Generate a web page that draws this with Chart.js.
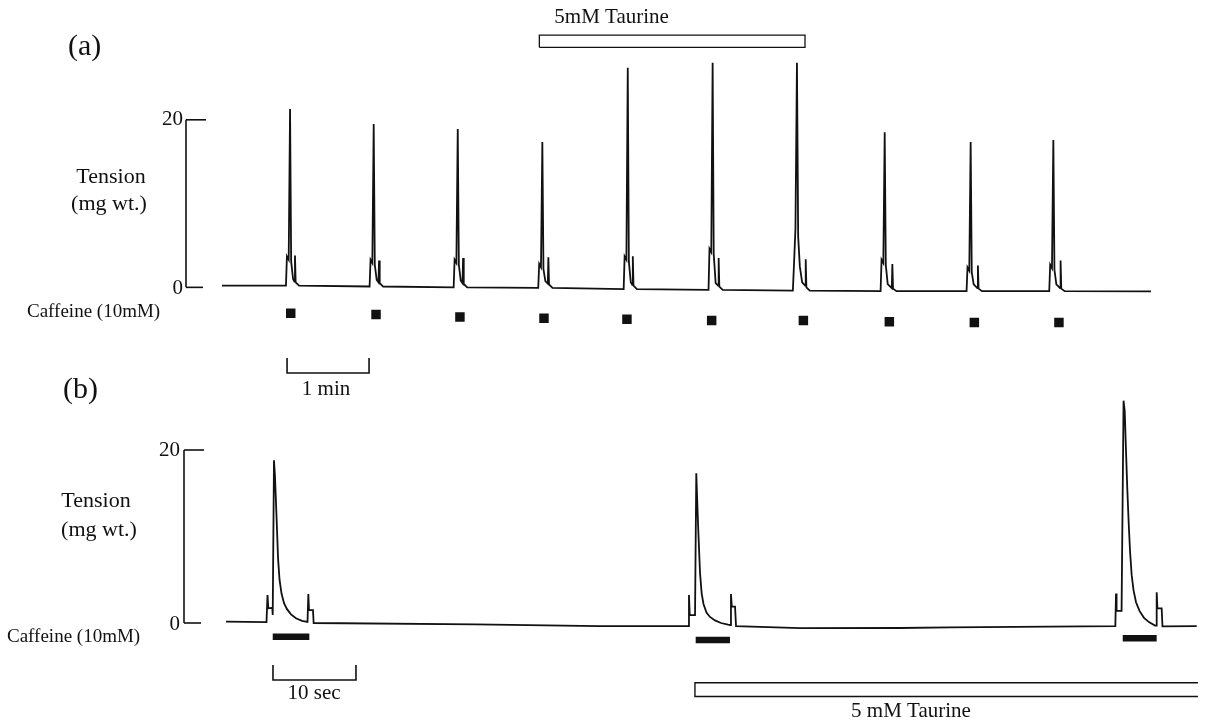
<!DOCTYPE html>
<html>
<head>
<meta charset="utf-8">
<title>Caffeine contractures and 5 mM taurine</title>
<script src="https://cdn.jsdelivr.net/npm/chart.js@4.4.1/dist/chart.umd.min.js"></script>
<style>
  body { margin: 0; background: #fff; }
  .wrap { position: relative; width: 1209px; height: 724px; }
  canvas { position: absolute; left: 0; top: 0; }
</style>
</head>
<body>
<div class="wrap">
  <canvas id="traceA" width="1209" height="724"></canvas>
  <canvas id="traceB" width="1209" height="724"></canvas>
</div>
<script>
// (a) slow record: time in s from start of trace, tension in mg wt.
const aTime = [
  0,
  46.8, 47.5, 48.8, 49.8, 50.6, 52.0, 53.0, 53.4, 53.9, 56.4,
  108.0, 108.7, 110.0, 111.0, 111.8, 113.2, 114.5, 114.9, 115.4, 117.9,
  169.5, 170.2, 171.5, 172.5, 173.3, 174.7, 176.0, 176.4, 176.9, 179.4,
  231.4, 232.1, 233.4, 234.4, 235.2, 236.6, 238.4, 238.8, 239.3, 241.8,
  293.9, 294.6, 295.9, 296.9, 297.7, 299.1, 300.2, 300.6, 301.1, 303.6,
  356.0, 356.7, 358.0, 359.0, 359.8, 361.2, 363.0, 363.4, 363.9, 366.4,
  417.7, 418.6, 419.6, 420.7, 421.6, 422.8, 424.5, 426.7, 427.1, 427.6, 430.1,
  481.9, 482.6, 483.9, 484.9, 485.7, 487.1, 490.1, 490.5, 491.0, 493.5,
  544.8, 545.5, 546.8, 547.8, 548.6, 550.0, 552.7, 553.1, 553.6, 556.1,
  605.3, 606.0, 607.3, 608.3, 609.1, 610.5, 613.2, 613.6, 614.1, 616.6,
  679.8
];
const aTension = [
  0.2,
  0.2, 3.7, 3.3, 21.3, 3.1, 1.0, 0.7, 3.8, 0.6, 0.2,
  0.1, 3.3, 2.9, 19.5, 2.7, 0.9, 0.6, 3.2, 0.5, 0.1,
  0.0, 3.3, 2.9, 18.9, 2.7, 0.8, 0.5, 3.5, 0.4, 0.0,
  -0.05, 2.8, 2.4, 17.35, 2.2, 0.75, 0.45, 3.6, 0.35, -0.05,
  -0.2, 3.7, 3.3, 26.2, 3.1, 0.6, 0.3, 3.7, 0.2, -0.2,
  -0.3, 4.6, 4.2, 26.8, 4.0, 0.5, 0.2, 3.5, 0.1, -0.3,
  -0.4, 3.0, 7.0, 26.8, 6.0, 2.5, 0.6, 0.2, 3.35, 0.0, -0.4,
  -0.45, 3.3, 2.9, 18.5, 2.7, 0.4, -0.1, 2.8, -0.15, -0.45,
  -0.45, 2.4, 2.0, 17.35, 1.8, 0.35, -0.1, 2.6, -0.15, -0.45,
  -0.45, 2.7, 2.3, 17.6, 2.1, 0.35, -0.1, 3.2, -0.15, -0.45,
  -0.47
];
const aCaffeineTime = [50.3, 112.7, 174.1, 235.6, 296.3, 358.3, 425.4, 488.3, 550.5, 612.4];
const aCaffeineLevel = [-3.1, -3.25, -3.55, -3.7, -3.8, -3.95, -3.95, -4.1, -4.2, -4.2];
const aTaurine = [232.2, 426.6];

// (b) fast record: time in s from start of trace
const bTime = [
  0, 4.88, 5.0, 5.1, 5.58, 5.63, 5.78, 5.90, 6.08, 6.27, 6.45, 6.69, 6.99, 7.35, 7.83, 8.43, 9.16, 9.82,
  9.92, 10.0, 10.48, 10.56,
  30.0, 45.0,
  55.72, 55.78, 55.87, 56.51, 56.66, 56.87, 57.11, 57.31, 57.53, 57.89, 58.31, 58.92, 59.64, 60.48,
  60.78, 60.84, 60.94, 61.33, 61.45,
  69.2, 81.2, 87.2,
  107.15, 107.23, 107.3, 107.9, 108.14, 108.28, 108.43, 108.59, 108.76, 108.92, 109.12, 109.34, 109.64,
  110.06, 110.6, 111.2, 111.93,
  112.05, 112.13, 112.22, 112.73, 112.83, 116.95
];
const bTension = [
  0.15, 0.1, 3.24, 1.7, 1.75, 0.92, 18.8, 17.0, 12.5, 7.5, 5.0, 3.4, 2.3, 1.6, 1.0, 0.55, 0.25, 0.12,
  3.35, 1.5, 1.5, 0.0,
  -0.15, -0.35,
  -0.35, 3.24, 0.92, 0.92, 17.3, 11.5, 5.8, 3.4, 2.2, 1.2, 0.7, 0.3, 0.0, -0.2,
  -0.25, 3.35, 1.9, 1.9, -0.35,
  -0.6, -0.58, -0.5,
  -0.35, 3.4, 1.4, 1.4, 25.7, 24.5, 20.0, 15.5, 11.5, 8.3, 5.5, 3.8, 2.4,
  1.4, 0.6, 0.1, -0.3,
  -0.3, 3.55, 1.7, 1.7, -0.4, -0.35
];
const bCaffeine = [[5.63, 10.04], [56.59, 60.72], [108.04, 112.13]];
const bCaffeineLevel = [-1.58, -1.97, -1.77];
const bTaurine = [56.5, 117.1];

const tensionTicks = [0, 20];
const serif = '"Liberation Serif", "Times New Roman", serif';
const ink = '#111';

const pts = (xs, ys) => xs.map((x, i) => ({ x: x, y: ys[i] }));

// outline of a drug application bar; open bars run off the right side
function bar(span, lo, hi, open) {
  if (open) {
    return [{ x: span[1], y: hi }, { x: span[0], y: hi }, { x: span[0], y: lo }, { x: span[1], y: lo }];
  }
  return [{ x: span[0], y: lo }, { x: span[1], y: lo }, { x: span[1], y: hi }, { x: span[0], y: hi }, { x: span[0], y: lo }];
}

function text(ctx, s, x, y, size, align) {
  ctx.font = size + 'px ' + serif;
  ctx.textAlign = align || 'center';
  ctx.textBaseline = 'middle';
  ctx.fillText(s, x, y);
}

function line(ctx, x1, y1, x2, y2) {
  ctx.beginPath();
  ctx.moveTo(x1, y1);
  ctx.lineTo(x2, y2);
  ctx.stroke();
}

// tension scale bar drawn from the y scale
function tensionBar(chart, barX, labelX) {
  const ctx = chart.ctx, y = chart.scales.y;
  const lo = y.getPixelForValue(tensionTicks[0]);
  const hi = y.getPixelForValue(tensionTicks[1]);
  line(ctx, barX, hi, barX, lo);
  line(ctx, barX, hi, barX + 20, hi);
  line(ctx, barX, lo, barX + 17, lo);
  text(ctx, String(tensionTicks[1]), labelX, hi, 21, 'right');
  text(ctx, String(tensionTicks[0]), labelX, lo + 1, 21, 'right');
}

function timeBar(chart, t0, len, yPix, label, labelX, labelY) {
  const ctx = chart.ctx, x = chart.scales.x;
  const x1 = x.getPixelForValue(t0), x2 = x.getPixelForValue(t0 + len);
  ctx.beginPath();
  ctx.moveTo(x1, yPix - 15);
  ctx.lineTo(x1, yPix);
  ctx.lineTo(x2, yPix);
  ctx.lineTo(x2, yPix - 15);
  ctx.stroke();
  text(ctx, label, labelX, labelY, 21);
}

const overlayA = {
  id: 'overlayA',
  afterDraw(chart) {
    const ctx = chart.ctx;
    ctx.save();
    ctx.strokeStyle = ink;
    ctx.fillStyle = ink;
    ctx.lineWidth = 1.6;
    tensionBar(chart, 186, 183);
    text(ctx, '(a)', 68, 47, 30, 'left');
    text(ctx, 'Tension', 111, 177, 22);
    text(ctx, '(mg wt.)', 109, 204, 22);
    text(ctx, 'Caffeine (10mM)', 27, 312, 19, 'left');
    text(ctx, '5mM Taurine', chart.scales.x.getPixelForValue(aTaurine[0]) + 15, 17, 21, 'left');
    timeBar(chart, 47.6, 60, 373, '1 min', 326, 389);
    ctx.restore();
  }
};

const overlayB = {
  id: 'overlayB',
  afterDraw(chart) {
    const ctx = chart.ctx;
    ctx.save();
    ctx.strokeStyle = ink;
    ctx.fillStyle = ink;
    ctx.lineWidth = 1.6;
    tensionBar(chart, 184, 180);
    text(ctx, '(b)', 63, 390, 30, 'left');
    text(ctx, 'Tension', 96, 501, 22);
    text(ctx, '(mg wt.)', 99, 530, 22);
    text(ctx, 'Caffeine (10mM)', 7, 637, 19, 'left');
    timeBar(chart, 5.66, 10, 680, '10 sec', 314, 693);
    text(ctx, '5 mM Taurine', 911, 711, 21);
    ctx.restore();
  }
};

const baseOptions = (xMax, yMin, yMax, padding) => ({
  responsive: false,
  animation: false,
  devicePixelRatio: 1,
  layout: { padding: padding },
  plugins: { legend: { display: false }, tooltip: { enabled: false } },
  elements: { line: { tension: 0, borderJoinStyle: 'miter' }, point: { radius: 0 } },
  scales: {
    x: { type: 'linear', min: 0, max: xMax, display: false },
    y: { type: 'linear', min: yMin, max: yMax, display: false }
  }
});

new Chart(document.getElementById('traceA'), {
  type: 'line',
  data: {
    datasets: [
      { data: pts(aTime, aTension), borderColor: ink, borderWidth: 1.8 },
      {
        data: pts(aCaffeineTime, aCaffeineLevel), showLine: false,
        pointStyle: 'rect', pointRadius: 6.7, backgroundColor: ink, borderColor: ink, borderWidth: 0
      },
      { data: bar(aTaurine, 28.65, 30.1, false), borderColor: ink, borderWidth: 1.3 }
    ]
  },
  options: baseOptions(680, -14, 33.5, { left: 222, right: 57.67, top: 2.09, bottom: 319.35 }),
  plugins: [overlayA]
});

new Chart(document.getElementById('traceB'), {
  type: 'line',
  data: {
    datasets: [
      { data: pts(bTime, bTension), borderColor: ink, borderWidth: 1.8 },
      { data: bar(bTaurine, -8.5, -6.9, true), borderColor: ink, borderWidth: 1.4 }
    ].concat(bCaffeine.map((span, i) => ({
      data: [{ x: span[0], y: bCaffeineLevel[i] }, { x: span[1], y: bCaffeineLevel[i] }],
      borderColor: ink, borderWidth: 6.5, borderCapStyle: 'butt'
    })))
  },
  options: baseOptions(118, -11, 28, { left: 226, right: 3.6, top: 380.8, bottom: 5.85 }),
  plugins: [overlayB]
});
</script>
</body>
</html>
